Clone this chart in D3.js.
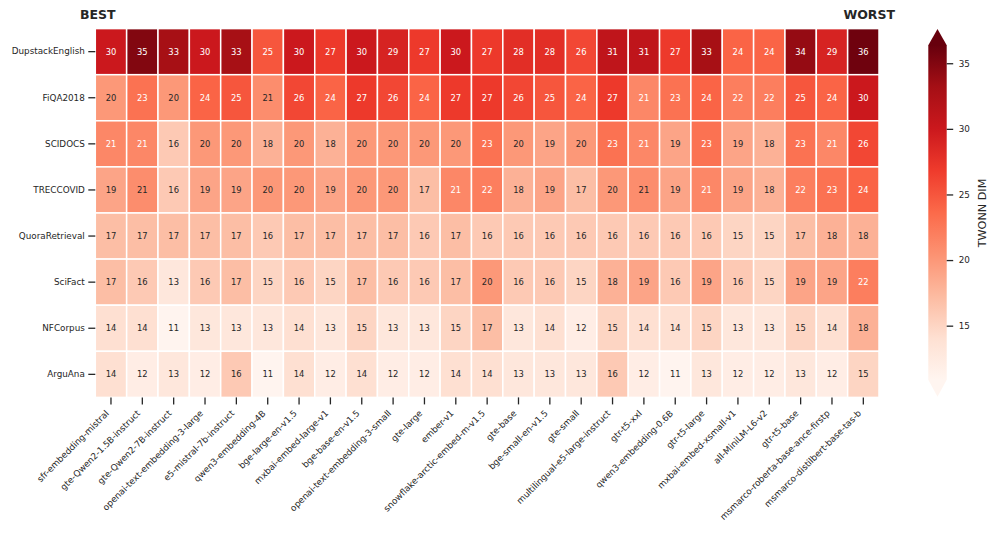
<!DOCTYPE html>
<html>
<head>
<meta charset="utf-8">
<script src="https://cdn.jsdelivr.net/npm/d3@7"></script>
<style>
  html, body { margin: 0; padding: 0; background: #fff; }
  svg { display: block; font-family: "DejaVu Sans", sans-serif; }
</style>
</head>
<body>
<svg id="chart" width="997" height="533"></svg>
<script>
const models = [
  "sfr-embedding-mistral", "gte-Qwen2-1.5B-instruct", "gte-Qwen2-7B-instruct",
  "openai-text-embedding-3-large", "e5-mistral-7b-instruct", "qwen3-embedding-4B",
  "bge-large-en-v1.5", "mxbai-embed-large-v1", "bge-base-en-v1.5",
  "openai-text-embedding-3-small", "gte-large", "ember-v1",
  "snowflake-arctic-embed-m-v1.5", "gte-base", "bge-small-en-v1.5", "gte-small",
  "multilingual-e5-large-instruct", "gtr-t5-xxl", "qwen3-embedding-0.6B",
  "gtr-t5-large", "mxbai-embed-xsmall-v1", "all-MiniLM-L6-v2", "gtr-t5-base",
  "msmarco-roberta-base-ance-firstp", "msmarco-distilbert-base-tas-b"
];
const datasets = ["DupstackEnglish", "FiQA2018", "SCIDOCS", "TRECCOVID",
                  "QuoraRetrieval", "SciFact", "NFCorpus", "ArguAna"];

const dupstackEnglish = [30,35,33,30,33,25,30,27,30,29,27,30,27,28,28,26,31,31,27,33,24,24,34,29,36];
const fiqa2018        = [20,23,20,24,25,20.8,26,24,27,26,24,27,27,26,25,24,27,21.3,23,24,22,22,25,24,30];
const scidocs         = [21.3,21.3,16,20,20,18,20,18,20,20,20,20,23,20,19,20,23,21.3,19,23,19,18,23,21.3,26];
const treccovid       = [19,20.8,16,19,19,20,20,19,20,20,17,21.3,22,18,19,17,20,20.8,19,21.3,19,18,22,23,24];
const quoraRetrieval  = [17,17,17,17,17,16,17,17,17,17,16,17,16,16,16,16,16,16,16,16,15,15,17,18,18];
const sciFact         = [17,16,13,16,17,15,16,15,17,16,16,17,20,16,16,15,18,19,16,19,16,15,19,19,22];
const nfCorpus        = [14,14,11,13,13,13,14,13,15,13,13,15,17,13,14,12,15,14,14,15,13,13,15,14,18];
const arguAna         = [14,12,13,12,16,11,14,12,14,12,12,14,14,13,13,13,16,12,11,13,12,12,13,12,15];

const matrix = [dupstackEnglish, fiqa2018, scidocs, treccovid, quoraRetrieval, sciFact, nfCorpus, arguAna];

const colorbarTicks = [15, 20, 25, 30, 35];
const vmin = 10.86, vmax = 36.39;
const redsStops = ["#fff5f0","#fee0d2","#fcbba1","#fc9272","#fb6a4a","#ef3b2c","#cb181d","#a50f15","#67000d"];

const svg = d3.select("#chart");
const ink = "#262626";

// layout
const x0 = 95.3, x1 = 879, y0 = 28.6, y1 = 397.4;

const x = d3.scaleBand().domain(models).range([x0, x1]).padding(0);
const y = d3.scaleBand().domain(datasets).range([y0, y1]).padding(0);

const norm = d3.scaleLinear().domain([vmin, vmax]).range([0, 1]).clamp(true);
const cmap = d3.scaleLinear()
  .domain(d3.range(redsStops.length).map(i => i / (redsStops.length - 1)))
  .range(redsStops)
  .interpolate(d3.interpolateRgb);
const color = v => cmap(norm(v));

function luminance(c) {
  const rgb = d3.rgb(c);
  const lin = [rgb.r, rgb.g, rgb.b].map(u => {
    u = u / 255;
    return u <= 0.03928 ? u / 12.92 : Math.pow((u + 0.055) / 1.055, 2.4);
  });
  return 0.2126 * lin[0] + 0.7152 * lin[1] + 0.0722 * lin[2];
}

const cells = [];
matrix.forEach((row, i) => row.forEach((v, j) => cells.push({ ds: datasets[i], m: models[j], v })));

const g = svg.append("g");
g.selectAll("rect.cell").data(cells).enter().append("rect")
  .attr("class", "cell")
  .attr("x", d => x(d.m))
  .attr("y", d => y(d.ds))
  .attr("width", x.bandwidth())
  .attr("height", y.bandwidth())
  .attr("fill", d => color(d.v))
  .attr("stroke", "#fff")
  .attr("stroke-width", 1.5);

const fmt = d3.format(".0f");
g.selectAll("text.val").data(cells).enter().append("text")
  .attr("class", "val")
  .attr("x", d => x(d.m) + x.bandwidth() / 2)
  .attr("y", d => y(d.ds) + y.bandwidth() / 2)
  .attr("dy", "0.36em")
  .attr("text-anchor", "middle")
  .attr("font-size", "8.4px")
  .attr("fill", d => luminance(color(d.v)) > 0.408 ? ink : "#ffffff")
  .text(d => fmt(d.v));

// y axis
const yAxis = d3.axisLeft(y).tickSize(7).tickPadding(3.5);
const yg = svg.append("g").attr("transform", `translate(${x0},0)`).call(yAxis);
yg.select(".domain").remove();
yg.selectAll(".tick line").attr("stroke", ink).attr("stroke-width", 1.3);
yg.selectAll(".tick text").attr("fill", ink).attr("font-size", "8.8px")
  .attr("font-family", "DejaVu Sans");

// x axis
const xAxis = d3.axisBottom(x).tickSize(7).tickPadding(3.5);
const xg = svg.append("g").attr("transform", `translate(0,${y1})`).call(xAxis);
xg.select(".domain").remove();
xg.selectAll(".tick line").attr("stroke", ink).attr("stroke-width", 1.3);
xg.selectAll(".tick text")
  .attr("fill", ink).attr("font-size", "8.8px").attr("font-family", "DejaVu Sans")
  .attr("text-anchor", "end")
  .attr("y", 0).attr("dy", 0)
  .attr("transform", "translate(-1.5,16.5) rotate(-45)");

// BEST / WORST
svg.append("text").attr("x", 80).attr("y", 19).attr("font-size", "12.5px")
  .attr("font-weight", "bold").attr("fill", ink).text("BEST");
svg.append("text").attr("x", 895).attr("y", 19).attr("font-size", "12.5px")
  .attr("text-anchor", "end").attr("font-weight", "bold").attr("fill", ink).text("WORST");

// colorbar
const cbX = 928.3, cbW = 18.4, cbTop = 45, cbBot = 380, tipTop = 29, tipBot = 396.7;
const cbScale = d3.scaleLinear().domain([vmin, vmax]).range([cbBot, cbTop]);
const defs = svg.append("defs");
const grad = defs.append("linearGradient").attr("id", "cbgrad")
  .attr("x1", 0).attr("y1", 1).attr("x2", 0).attr("y2", 0);
redsStops.forEach((c, i) => grad.append("stop")
  .attr("offset", i / (redsStops.length - 1)).attr("stop-color", c));
const cb = svg.append("g");
cb.append("rect").attr("x", cbX).attr("y", cbTop).attr("width", cbW)
  .attr("height", cbBot - cbTop).attr("fill", "url(#cbgrad)");
cb.append("path")
  .attr("d", `M${cbX},${cbTop + 0.3}L${cbX + cbW / 2},${tipTop}L${cbX + cbW},${cbTop + 0.3}Z`)
  .attr("fill", redsStops[redsStops.length - 1]);
cb.append("path")
  .attr("d", `M${cbX},${cbBot - 0.3}L${cbX + cbW / 2},${tipBot}L${cbX + cbW},${cbBot - 0.3}Z`)
  .attr("fill", redsStops[0]);

const cbAxis = d3.axisRight(cbScale).tickValues(colorbarTicks).tickSize(6.5).tickPadding(5.5);
const cbg = svg.append("g").attr("transform", `translate(${cbX + cbW},0)`).call(cbAxis);
cbg.select(".domain").remove();
cbg.selectAll(".tick line").attr("stroke", ink).attr("stroke-width", 1.3);
cbg.selectAll(".tick text").attr("fill", ink).attr("font-size", "8.8px")
  .attr("font-family", "DejaVu Sans");

svg.append("text")
  .attr("transform", `translate(986,213) rotate(-90)`)
  .attr("text-anchor", "middle")
  .attr("font-size", "11.2px")
  .attr("fill", ink)
  .text("TWONN DIM");
</script>
</body>
</html>
